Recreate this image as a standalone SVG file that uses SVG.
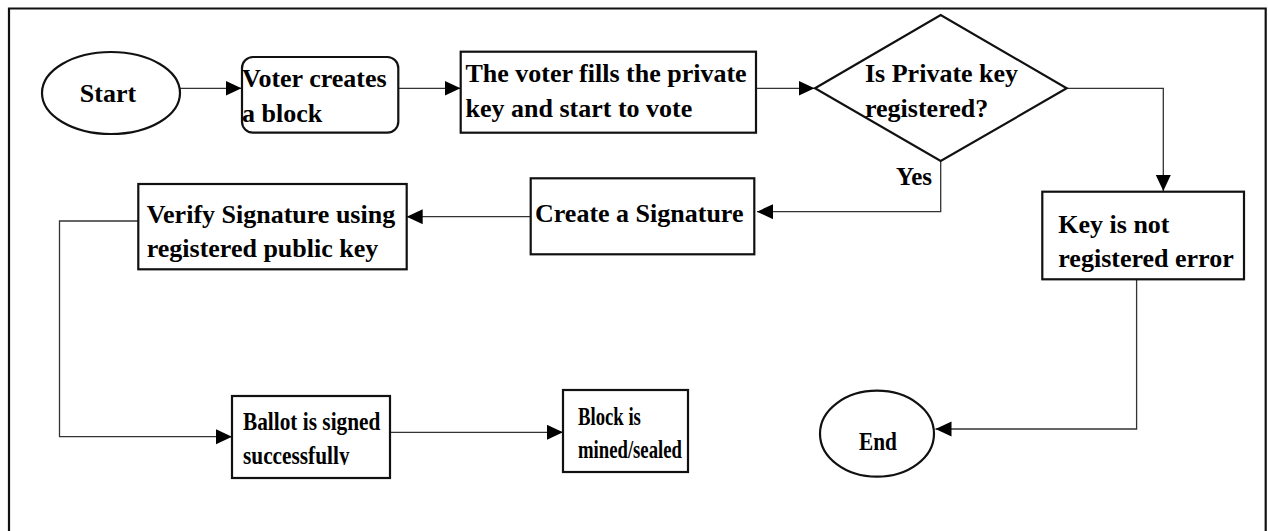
<svg xmlns="http://www.w3.org/2000/svg" width="1268" height="531" viewBox="0 0 1268 531">
<style>
.box{fill:#fff;stroke:#111;stroke-width:2.2}
.t{font-family:"Liberation Serif","Times New Roman",serif;font-weight:bold;font-size:26px;fill:#000}
.c{fill:none;stroke:#333;stroke-width:1.3}
</style>
<defs>
<marker id="ah" markerUnits="userSpaceOnUse" markerWidth="17" markerHeight="16" refX="16" refY="7.5" orient="auto">
<path d="M0,0 L16,7.5 L0,15 z" fill="#000"/>
</marker>
<clipPath id="clipBallot"><rect x="-20" y="395" width="240" height="70"/></clipPath>
</defs>
<rect x="0" y="0" width="1268" height="531" fill="#fff"/>
<path d="M9,540 V8.5 H1265.7 V540" fill="none" stroke="#111" stroke-width="2.2"/>

<g id="connectors">
<path class="c" d="M180,88.3 H241.5" marker-end="url(#ah)"/>
<path class="c" d="M398.3,88.3 H460.5" marker-end="url(#ah)"/>
<path class="c" d="M756,88.3 H814.5" marker-end="url(#ah)"/>
<path class="c" d="M1066.7,88.3 H1163.3 V191" marker-end="url(#ah)"/>
<path class="c" d="M940.7,161 V211.7 H757" marker-end="url(#ah)"/>
<path class="c" d="M530.7,216.7 H406.7" marker-end="url(#ah)"/>
<path class="c" d="M138.3,221 H59.5 V436.7 H232" marker-end="url(#ah)"/>
<path class="c" d="M390,432.3 H563" marker-end="url(#ah)"/>
<path class="c" d="M1136.6,279.3 V429 H935.5" marker-end="url(#ah)"/>
</g>

<g id="start">
<ellipse class="box" cx="111" cy="93" rx="69" ry="41"/>
<text class="t" x="108" y="101.7" text-anchor="middle">Start</text>
</g>

<g id="voter-creates">
<rect class="box" x="242" y="57" width="156.3" height="75.7" rx="11"/>
<text class="t" x="242" y="87.3">Voter creates</text>
<text class="t" x="242" y="121.7">a block</text>
</g>

<g id="voter-fills">
<rect class="box" x="460.7" y="51.7" width="295.3" height="81"/>
<text class="t" x="465.5" y="81.7">The voter fills the private</text>
<text class="t" x="465.5" y="116.7">key and start to vote</text>
</g>

<g id="decision">
<polygon class="box" points="815,88.3 940.7,15 1066.7,88.3 940.7,161"/>
<text class="t" x="865" y="81.7">Is Private key</text>
<text class="t" x="865" y="116.7">registered?</text>
</g>

<text class="t" x="932" y="185" text-anchor="end" style="font-size:25px">Yes</text>

<g id="key-error">
<rect class="box" x="1042.3" y="191.7" width="201.7" height="87.6"/>
<text class="t" x="1058.3" y="233.3">Key is not</text>
<text class="t" x="1058.3" y="266.7">registered error</text>
</g>

<g id="create-signature">
<rect class="box" x="530.7" y="178.3" width="223.6" height="76"/>
<text class="t" x="535" y="221.7">Create a Signature</text>
</g>

<g id="verify-signature">
<rect class="box" x="138.3" y="184" width="268.4" height="85.3"/>
<text class="t" x="146.7" y="223.3">Verify Signature using</text>
<text class="t" x="146.7" y="257.3">registered public key</text>
</g>

<g id="ballot-signed">
<rect class="box" x="232" y="396" width="158" height="82"/>
<g transform="translate(243,0) scale(0.82,1)">
<text class="t" x="0" y="430">Ballot is signed</text>
<text class="t" x="0" y="464" clip-path="url(#clipBallot)">successfully</text>
</g>
</g>

<g id="block-mined">
<rect class="box" x="563" y="390" width="125" height="82"/>
<g transform="translate(578,0) scale(0.72,1)">
<text class="t" x="0" y="425">Block is</text>
<text class="t" x="0" y="458.3">mined/sealed</text>
</g>
</g>

<g id="end">
<ellipse class="box" cx="877" cy="433.7" rx="57" ry="43"/>
<g transform="translate(878,0) scale(0.82,1)">
<text class="t" x="0" y="450" text-anchor="middle">End</text>
</g>
</g>
</svg>
